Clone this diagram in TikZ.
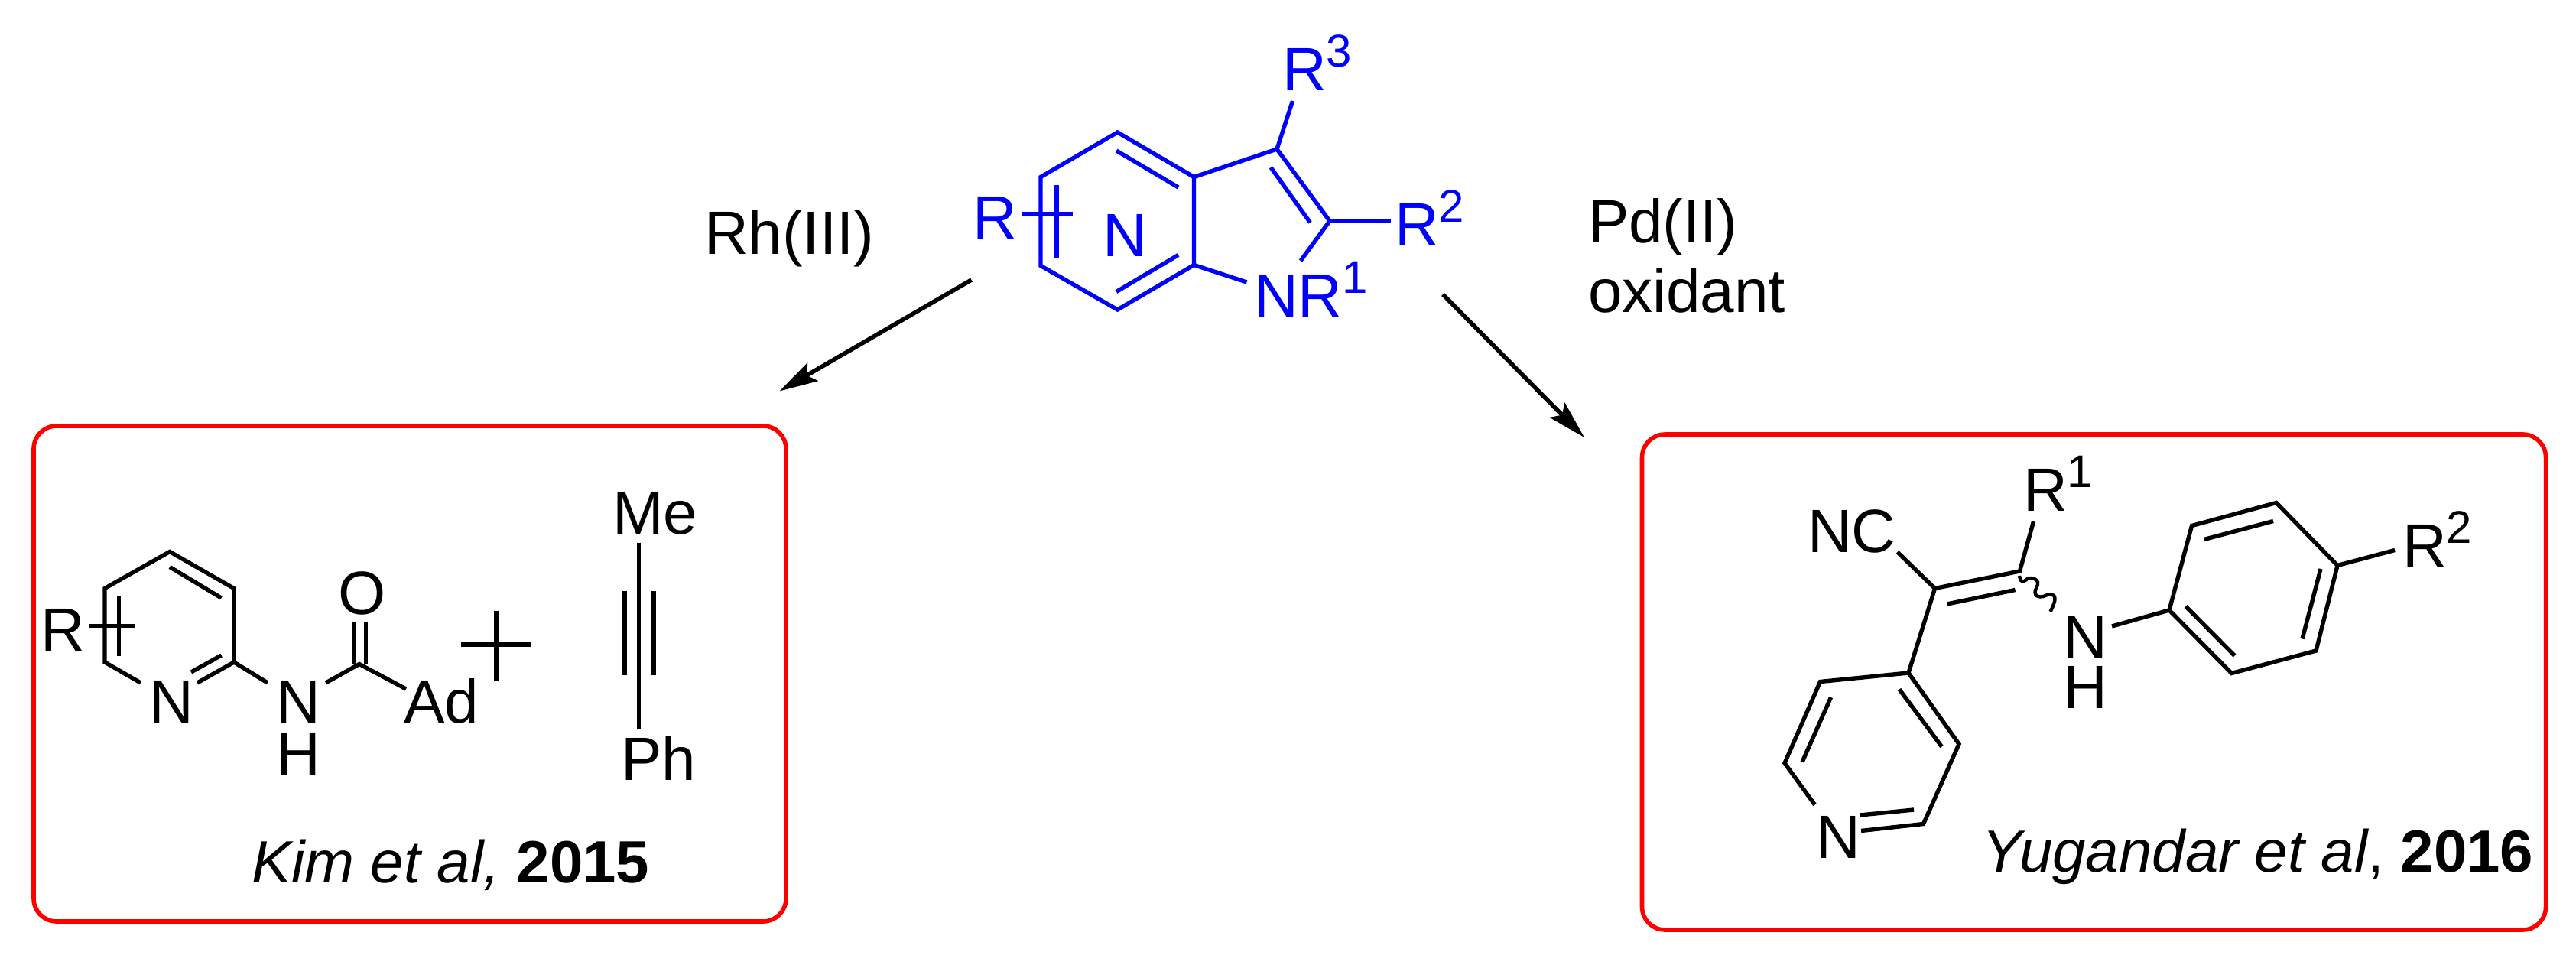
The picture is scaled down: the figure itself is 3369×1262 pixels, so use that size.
\documentclass[tikz,border=0pt]{standalone}
\usepackage{fontspec}
\setmainfont{Liberation Sans}
\usetikzlibrary{arrows.meta}
\definecolor{indoleblue}{RGB}{0,0,255}
\definecolor{boxred}{RGB}{255,0,0}
\newcommand{\supr}[1]{\raisebox{7.7pt}{\fontsize{15}{15}\selectfont #1}}
\tikzset{
  bond/.style={line width=1.35pt},
  rxn/.style={line width=1.4pt, -{Stealth[length=12.5pt, width=6.8pt, inset=2.2pt]}},
  lab/.style={inner sep=0pt, outer sep=0pt, anchor=base west, font=\fontsize{20}{20}\selectfont},
  reflab/.style={lab, font=\fontsize{19.5}{19.5}\selectfont},
  redbox/.style={draw=boxred, line width=1.4pt, rounded corners=7.5pt},
}
\begin{document}
\begin{tikzpicture}[x=0.25pt, y=-0.25pt]
      \useasboundingbox (0,0) rectangle (3369,1262);
      %
      % indole, top middle
      \begin{scope}[color=indoleblue, text=indoleblue]
      \coordinate (a1) at (1461.5,173);
      \coordinate (a2) at (1361,231.5);
      \coordinate (a3) at (1361,347.5);
      \coordinate (a4) at (1461.5,405);
      \coordinate (a5) at (1561.5,346.5);
      \coordinate (a6) at (1561.5,231.5);
      \coordinate (a7) at (1670,195);
      \coordinate (a8) at (1739,289);
      \coordinate (a9) at (1701,341);
      \coordinate (a10) at (1630.5,369);
      \coordinate (a11) at (1690.5,132);
      \coordinate (a12) at (1818.5,289);
      \draw[bond] (a6) -- (a1) -- (a2) -- (a3) -- (a4) -- (a5) -- cycle;
      \draw[bond] (a6) -- (a7) -- (a8) -- (a9);
      \draw[bond] (a5) -- (a10);
      \draw[bond] (a7) -- (a11);
      \draw[bond] (a8) -- (a12);
      \draw[bond] (1460,197) -- (1541,245);     % inner top
      \draw[bond] (1460,381.5) -- (1541,333.5); % inner bottom
      \draw[bond] (1662,219) -- (1713.5,291);   % inner five ring
      \draw[bond] (1382,242) -- (1382,337);     % substituent cross
      \draw[bond] (1337,280) -- (1403,280);
      \node[lab] (indoleR) at (1272,312) {R};
      \node[lab] (indoleN) at (1442,335) {N};
      \node[lab] (indoleNR) at (1640,414.5) {NR\supr{1}};
      \node[lab] (indoleRb) at (1824,321.5) {R\supr{2}};
      \node[lab] (indoleRc) at (1677,118.5) {R\supr{3}};
      \end{scope}
      %
      % reagents and arrows
      \node[lab] (rhlabel) at (921,332.5) {Rh(III)};
      \node[lab] (pdlabel) at (2077,317.5) {Pd(II)};
      \node[lab] (oxlabel) at (2077,408.5) {oxidant};
      \coordinate (lstart) at (1270.5,366);
      \coordinate (lend) at (1019.5,511.5);
      \coordinate (rstart) at (1887,385);
      \coordinate (rend) at (2072,572);
      \draw[rxn] (lstart) -- (lend);
      \draw[rxn] (rstart) -- (rend);
      %
      % left box
      \node[redbox, minimum width=246pt, minimum height=162pt] (kimbox) at (536,881) {};
      \coordinate (b1) at (222,721.5);
      \coordinate (b2) at (306,769.5);
      \coordinate (b3) at (306,866);
      \coordinate (b4) at (258,893);
      \coordinate (b5) at (184,893);
      \coordinate (b6) at (137,866);
      \coordinate (b7) at (137,769.5);
      \coordinate (b8) at (350,893);
      \coordinate (b9) at (426,893);
      \coordinate (b10) at (470,868.5);
      \coordinate (b11) at (531,901);
      \draw[bond] (b4) -- (b3) -- (b2) -- (b1) -- (b7) -- (b6) -- (b5);
      \draw[bond] (b3) -- (b8);
      \draw[bond] (b9) -- (b10) -- (b11);
      \draw[bond] (222,741.5) -- (289.5,782);   % inner top
      \draw[bond] (250,879) -- (289.5,857);     % inner CN
      \draw[bond] (155.5,779) -- (155.5,858);   % substituent cross
      \draw[bond] (116,818.5) -- (176,818.5);
      \draw[bond] (463,814) -- (463,868.5);     % C=O
      \draw[bond] (478.5,814) -- (478.5,868.5);
      \draw[bond] (603,843) -- (694,843);       % plus
      \draw[bond] (649,798.5) -- (649,889.5);
      \coordinate (c1) at (835.5,709.5);
      \coordinate (c2) at (835.5,952.5);
      \draw[bond] (c1) -- (c2);                 % alkyne
      \draw[bond] (817,773) -- (817,882.5);
      \draw[bond] (855,773) -- (855,882.5);
      \node[lab] (kimR) at (53,851) {R};
      \node[lab] (kimN) at (195,945.5) {N};
      \node[lab] (kimNH) at (361,945.5) {N};
      \node[lab] (kimH) at (361,1013) {H};
      \node[lab] (kimO) at (442,803) {O};
      \node[lab] (kimAd) at (528,945.5) {Ad};
      \node[lab] (kimMe) at (801,698) {Me};
      \node[lab] (kimPh) at (812,1020) {Ph};
      \node[reflab] (kimref) at (329,1154.5) {\textit{Kim et al,} \textbf{2015}};
      %
      % right box
      \node[redbox, minimum width=295.5pt, minimum height=162pt] (yugbox) at (2738.5,892) {};
      \coordinate (d1) at (2530.5,769.5);
      \coordinate (d2) at (2641.5,747);
      \coordinate (d3) at (2481.5,722);
      \coordinate (d4) at (2659.5,682);
      \coordinate (e1) at (2496,880);
      \coordinate (e2) at (2380.5,891.5);
      \coordinate (e3) at (2334,998);
      \coordinate (e4) at (2373.5,1052.5);
      \coordinate (e5) at (2434,1086.5);
      \coordinate (e6) at (2515.5,1077.5);
      \coordinate (e7) at (2562,973);
      \coordinate (f1) at (2837,798);
      \coordinate (f2) at (2866.5,687.5);
      \coordinate (f3) at (2977,657.5);
      \coordinate (f4) at (3057,739.5);
      \coordinate (f5) at (3029,851);
      \coordinate (f6) at (2918.5,880.5);
      \coordinate (g1) at (2762,819);
      \coordinate (g2) at (3132,719.5);
      \draw[bond] (d3) -- (d1) -- (d2) -- (d4);
      \draw[bond] (d1) -- (e1);
      \draw[bond] (2546.5,790) -- (2635.5,771.5); % inner C=C
      \draw[bond] (e4) -- (e3) -- (e2) -- (e1) -- (e7) -- (e6) -- (e5);
      \draw[bond] (2484,901.5) -- (2539.5,976.5);
      \draw[bond] (2394.5,912) -- (2357,996.5);
      \draw[bond] (2432.5,1066) -- (2503,1059);
      \draw[bond] (f1) -- (f2) -- (f3) -- (f4) -- (f5) -- (f6) -- cycle;
      \draw[bond] (2882.5,705.5) -- (2973,681.5);
      \draw[bond] (3035,744) -- (3011,835.5);
      \draw[bond] (2858.5,793) -- (2922.5,857.5);
      \draw[bond] (g1) -- (f1);
      \draw[bond] (f4) -- (g2);
      \draw[line width=1.1pt] plot[smooth, tension=0.8] coordinates {(2641,753) (2645,760.5) (2655,756) (2665,761.5) (2661.5,775) (2668.5,780.5) (2681.5,777.5) (2687.5,783.5) (2681.5,800)}; % wavy bond
      \node[lab] (yugNC) at (2364,722) {NC};
      \node[lab] (yugR) at (2646,668) {R\supr{1}};
      \node[lab] (yugNH) at (2698,861) {N};
      \node[lab] (yugH) at (2698,926.5) {H};
      \node[lab] (yugRb) at (3142,741) {R\supr{2}};
      \node[lab] (yugN) at (2375,1122.5) {N};
      \node[reflab] (yugref) at (2592,1140) {\textit{Yugandar et al}, \textbf{2016}};
      %
\end{tikzpicture}
\end{document}
